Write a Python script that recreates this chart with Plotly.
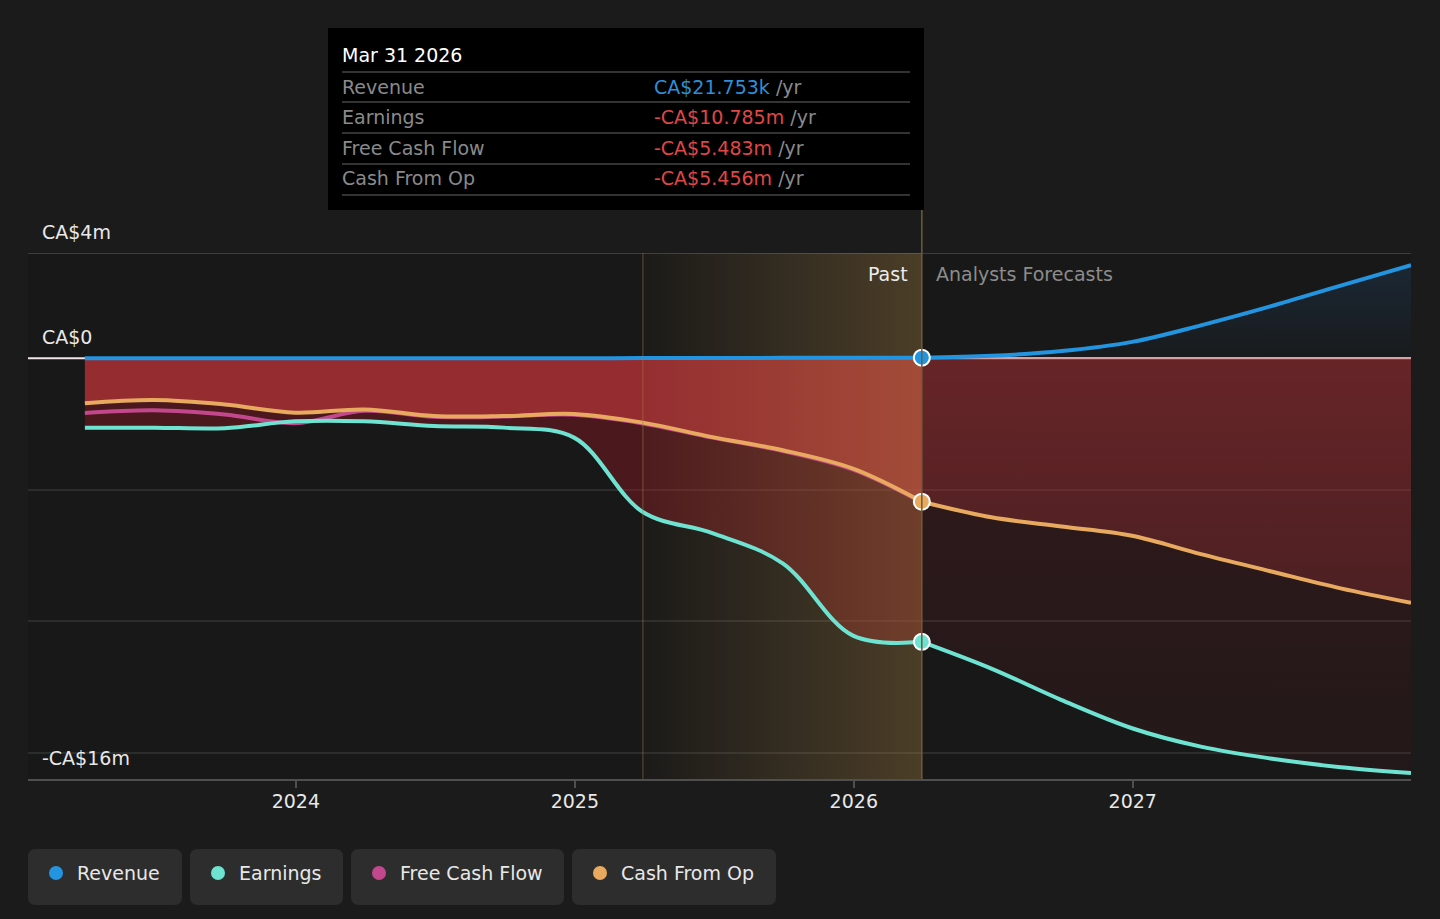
import pandas as pd
import plotly.graph_objects as go

# ---------------- data (values in CA$ millions) ----------------
past_dates = ["2023-03-31", "2023-06-30", "2023-09-30", "2023-12-31", "2024-03-31",
              "2024-06-30", "2024-09-30", "2024-12-31", "2025-03-31", "2025-06-30",
              "2025-09-30", "2025-12-31", "2026-03-31"]
revenue_past = [0.0, 0.0, 0.0, 0.0, 0.0, 0.0, 0.0, 0.0, 0.004, 0.008, 0.013, 0.018, 0.021753]
earnings_past = [-2.64, -2.64, -2.66, -2.40, -2.40, -2.58, -2.64, -3.02, -5.85, -6.65, -7.80, -10.55, -10.785]
fcf_past = [-2.08, -1.98, -2.14, -2.47, -2.00, -2.23, -2.22, -2.15, -2.48, -3.02, -3.53, -4.24, -5.483]
cfo_past = [-1.71, -1.59, -1.76, -2.07, -1.95, -2.20, -2.20, -2.12, -2.45, -3.00, -3.50, -4.20, -5.456]

fc_dates = ["2026-03-31", "2026-06-30", "2026-09-30", "2026-12-31",
            "2027-03-31", "2027-06-30", "2027-09-30", "2027-12-31"]
revenue_fc = [0.021753, 0.09, 0.27, 0.62, 1.25, 1.97, 2.76, 3.54]
earnings_fc = [-10.785, -11.80, -13.00, -14.07, -14.77, -15.22, -15.55, -15.77]
cfo_fc = [-5.456, -6.05, -6.40, -6.75, -7.45, -8.10, -8.75, -9.30]

series_names = ["Revenue", "Earnings", "Free Cash Flow", "Cash From Op"]
series_colors = ["#2394e0", "#6ee3d2", "#c2478c", "#e8aa5e"]

year_ticks = [2024, 2025, 2026, 2027]
year_labels = ["2024", "2025", "2026", "2027"]
y_labels = ["CA$4m", "CA$0", "-CA$16m"]
band_start_date = "2025-03-31"
tooltip_date = "Mar 31 2026"


def dec_year(s):
    d = pd.Timestamp(s)
    n = 366 if d.is_leap_year else 365
    return d.year + (d.dayofyear - 1) / n


xp = [dec_year(d) for d in past_dates]
xf = [dec_year(d) for d in fc_dates]
x_now = xp[-1]
x_band = dec_year(band_start_date)

# ---------------- layout geometry ----------------
W, H = 1440, 919
L, R, T, B = 28, 1411, 253, 779
FONT = "DejaVu Sans"
SMOOTH = 1.0


def px_x(x):
    return (x - L) / (R - L)


def px_y(y):
    return (B - y) / (B - T)


C_REV, C_EARN, C_FCF, C_CFO = series_colors

fig = go.Figure()

# ---- fills: past ----
fig.add_trace(go.Scatter(x=xp, y=earnings_past, mode="lines", fill="tozeroy",
                         line=dict(width=0, shape="spline", smoothing=SMOOTH),
                         fillcolor="rgba(160,30,40,0.38)", hoverinfo="skip", showlegend=False))
fig.add_trace(go.Scatter(x=xp, y=cfo_past, mode="lines", fill="tozeroy",
                         line=dict(width=0, shape="spline", smoothing=SMOOTH),
                         fillcolor="rgba(190,55,60,0.64)", hoverinfo="skip", showlegend=False))
# ---- fills: forecast ----
fig.add_trace(go.Scatter(x=xf, y=earnings_fc, mode="lines", fill="tozeroy",
                         line=dict(width=0, shape="spline", smoothing=SMOOTH),
                         fillgradient=dict(type="vertical", start=0, stop=-16,
                                           colorscale=[[0, "rgba(160,30,40,0.19)"],
                                                       [1, "rgba(160,30,40,0.08)"]]),
                         hoverinfo="skip", showlegend=False))
fig.add_trace(go.Scatter(x=xf, y=cfo_fc, mode="lines", fill="tozeroy",
                         line=dict(width=0, shape="spline", smoothing=SMOOTH),
                         fillgradient=dict(type="vertical", start=0, stop=-10,
                                           colorscale=[[0, "rgba(190,55,60,0.38)"],
                                                       [1, "rgba(190,55,60,0.22)"]]),
                         hoverinfo="skip", showlegend=False))
fig.add_trace(go.Scatter(x=xf, y=revenue_fc, mode="lines", fill="tozeroy",
                         line=dict(width=0, shape="spline", smoothing=SMOOTH),
                         fillgradient=dict(type="vertical", start=4, stop=0,
                                           colorscale=[[0, "rgba(40,110,180,0.20)"],
                                                       [1, "rgba(40,110,180,0.03)"]]),
                         hoverinfo="skip", showlegend=False))

# ---- past-year highlight band ----
fig.add_trace(go.Scatter(x=[x_band, x_now, x_now, x_band, x_band], y=[-16, -16, 4, 4, -16],
                         mode="lines", fill="toself", line=dict(width=0),
                         fillgradient=dict(type="horizontal", start=x_band, stop=x_now,
                                           colorscale=[[0, "rgba(195,150,75,0.02)"],
                                                       [1, "rgba(195,150,75,0.30)"]]),
                         hoverinfo="skip", showlegend=False))


# ---- lines ----
def line(x, y, c):
    fig.add_trace(go.Scatter(x=x, y=y, mode="lines",
                             line=dict(color=c, width=4, shape="spline", smoothing=SMOOTH),
                             hoverinfo="skip", showlegend=False))


line(xp, fcf_past, C_FCF)
line(xp, earnings_past, C_EARN)
line(xf, earnings_fc, C_EARN)
line(xp, cfo_past, C_CFO)
line(xf, cfo_fc, C_CFO)
line(xp, revenue_past, C_REV)
line(xf, revenue_fc, C_REV)

# ---- markers at the hovered date ----
fig.add_trace(go.Scatter(x=[x_now, x_now, x_now],
                         y=[revenue_past[-1], cfo_past[-1], earnings_past[-1]],
                         mode="markers",
                         marker=dict(size=16, color=[C_REV, C_CFO, C_EARN],
                                     line=dict(color="white", width=2)),
                         hoverinfo="skip", showlegend=False))

shapes = []
annotations = []

# top line at 4m, zero line
shapes.append(dict(type="line", xref="paper", yref="y", x0=0, x1=1, y0=4, y1=4,
                   line=dict(color="#4a4a4a", width=1.5), layer="below"))
shapes.append(dict(type="line", xref="paper", yref="y", x0=0, x1=1, y0=0, y1=0,
                   line=dict(color="#f0e6e6", width=2), layer="below"))
# band edges / cursor line
shapes.append(dict(type="line", xref="x", yref="paper", x0=x_band, x1=x_band, y0=0, y1=1,
                   line=dict(color="rgba(160,130,80,0.35)", width=1.5)))
shapes.append(dict(type="line", xref="x", yref="paper", x0=x_now, x1=x_now, y0=0, y1=px_y(210),
                   line=dict(color="#6e5d3c", width=1.5)))

# tooltip box
shapes.append(dict(type="rect", xref="paper", yref="paper",
                   x0=px_x(328), x1=px_x(924), y0=px_y(210), y1=px_y(28),
                   fillcolor="#000000", line=dict(width=0)))
for yy in [72, 102, 133, 164, 195]:
    shapes.append(dict(type="line", xref="paper", yref="paper",
                       x0=px_x(342), x1=px_x(910), y0=px_y(yy), y1=px_y(yy),
                       line=dict(color="#444444", width=1.5)))


def ann(text, x, y, color="#e8e8e8", size=19, xanchor="left"):
    dx = -2 if xanchor == "left" else 2
    annotations.append(dict(text=text, xref="paper", yref="paper", x=px_x(x + dx), y=px_y(y),
                            xanchor=xanchor, yanchor="middle", showarrow=False,
                            font=dict(family=FONT, size=size, color=color)))


ann(tooltip_date, 342, 55, "#ffffff")


def fmt(v):
    sign = "-" if v < 0 else ""
    a = abs(v)
    if a < 1:
        return f"{sign}CA${a * 1000:.3f}k"
    return f"{sign}CA${a:.3f}m"


tip_values = [revenue_past[-1], earnings_past[-1], fcf_past[-1], cfo_past[-1]]
for i, (name, v) in enumerate(zip(series_names, tip_values)):
    yy = [87, 117, 148, 178][i]
    ann(name, 342, yy, "#8a8a8a")
    vc = "#2d8fd8" if v >= 0 else "#e04646"
    ann(f'<span style="color:{vc}">{fmt(v)}</span> /yr', 654, yy, "#8a8a8a")

# y labels
ann(y_labels[0], 42, 232)
ann(y_labels[1], 42, 337)
ann(y_labels[2], 42, 758)

# Past / Forecast labels
ann("Past", 908, 274, "#ececec", xanchor="right")
ann("Analysts Forecasts", 936, 274, "#8c8c8c")

# legend boxes
boxes = [(28, 182), (190, 343), (351, 564), (572, 776)]
r = 8
for (bx0, bx1), name, col in zip(boxes, series_names, series_colors):
    by0, by1 = 849, 905
    rx, ry = r / (R - L), r / (B - T)
    X0, X1, Y0, Y1 = px_x(bx0), px_x(bx1), px_y(by1), px_y(by0)
    path = (f"M {X0 + rx},{Y0} L {X1 - rx},{Y0} Q {X1},{Y0} {X1},{Y0 + ry} "
            f"L {X1},{Y1 - ry} Q {X1},{Y1} {X1 - rx},{Y1} L {X0 + rx},{Y1} "
            f"Q {X0},{Y1} {X0},{Y1 - ry} L {X0},{Y0 + ry} Q {X0},{Y0} {X0 + rx},{Y0} Z")
    shapes.append(dict(type="path", xref="paper", yref="paper", path=path,
                       fillcolor="#2d2d2d", line=dict(width=0)))
    cx, cy = bx0 + 28, 873
    shapes.append(dict(type="circle", xref="paper", yref="paper",
                       x0=px_x(cx - 7), x1=px_x(cx + 7), y0=px_y(cy + 7), y1=px_y(cy - 7),
                       fillcolor=col, line=dict(width=0)))
    ann(name, bx0 + 49, 873, "#e8e8e8")

fig.update_layout(
    width=W, height=H,
    margin=dict(l=L, r=W - R, t=T, b=H - B, pad=0),
    paper_bgcolor="#1b1b1b", plot_bgcolor="#181818",
    showlegend=False,
    font=dict(family=FONT, size=19, color="#e8e8e8"),
    xaxis=dict(range=[2023.04, xf[-1]], tickvals=year_ticks, ticktext=year_labels,
               showgrid=False, zeroline=False, showline=True, linecolor="#4f4f4f", linewidth=2,
               ticks="outside", ticklen=7, tickwidth=1.5, tickcolor="#4f4f4f",
               ticklabelstandoff=-3,
               tickfont=dict(family=FONT, size=19, color="#e8e8e8")),
    yaxis=dict(range=[-16, 4], tickvals=[-15, -10, -5], showticklabels=False,
               showgrid=True, gridcolor="rgba(255,255,255,0.09)", gridwidth=1.5,
               zeroline=False, showline=False),
    shapes=shapes, annotations=annotations,
)

fig.write_html("out.html", config={"displayModeBar": False},
               post_script="document.body.style.margin='0';document.body.style.background='#1b1b1b';")
